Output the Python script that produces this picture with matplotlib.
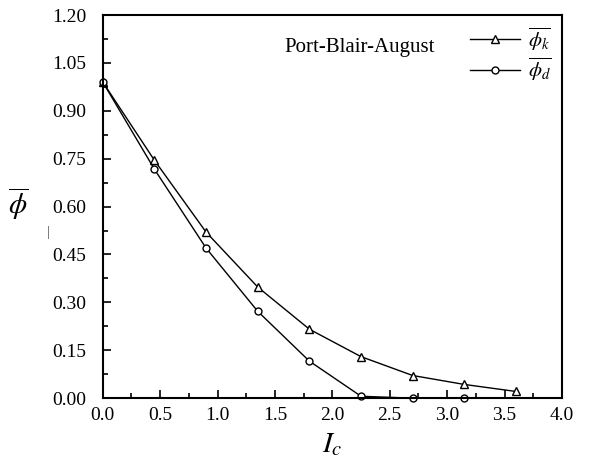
import matplotlib
matplotlib.use("Agg")
import matplotlib.pyplot as plt
from matplotlib.ticker import MultipleLocator

plt.rcParams['font.family'] = ['Liberation Serif', 'DejaVu Serif']
plt.rcParams['mathtext.fontset'] = 'stix'

# data
ic = [0.0, 0.45, 0.9, 1.35, 1.8, 2.25, 2.7, 3.15, 3.6]
phi_k = [0.99, 0.745, 0.52, 0.348, 0.216, 0.13, 0.071, 0.043, 0.021]
phi_d = [0.99, 0.717, 0.47, 0.272, 0.116, 0.006, 0.0, 0.0]

fig = plt.figure(figsize=(6.01, 4.69), dpi=100)
ax = fig.add_axes([0.171, 0.151, 0.764, 0.817])

ax.plot(ic, phi_k, color='black', lw=1, marker='^', ms=6, mfc='white',
        mec='black', mew=1, clip_on=False, label=r'$\overline{\phi_k}$')
ax.plot(ic[:len(phi_d)], phi_d, color='black', lw=1, marker='o', ms=5,
        mfc='white', mec='black', mew=1, clip_on=False,
        label=r'$\overline{\phi_d}$')

ax.set_xlim(0, 4.0)
ax.set_ylim(0, 1.2)
ax.xaxis.set_major_locator(MultipleLocator(0.5))
ax.xaxis.set_minor_locator(MultipleLocator(0.25))
ax.yaxis.set_major_locator(MultipleLocator(0.15))
ax.yaxis.set_minor_locator(MultipleLocator(0.075))
ax.xaxis.set_major_formatter(plt.FormatStrFormatter('%.1f'))
ax.yaxis.set_major_formatter(plt.FormatStrFormatter('%.2f'))
ax.tick_params(which='both', direction='in', top=False, right=False,
               labelsize=14, width=1.2)
ax.tick_params(which='major', length=6)
ax.tick_params(which='minor', length=3.5)
ax.tick_params(axis='y', pad=12)
ax.tick_params(axis='x', pad=6)
for s in ax.spines.values():
    s.set_linewidth(1.5)

ax.set_xlabel(r'$I_c$', fontsize=21)
ax.xaxis.set_label_coords(0.5, -0.085)
ax.set_ylabel(r'$\overline{\phi}$', fontsize=21, rotation=0)
ax.yaxis.set_label_coords(-0.185, 0.46)
# small stray bar next to the y label in the original
fig.text(0.081, 0.505, '|', fontsize=11, color='#555555', ha='center', va='center')

ax.text(0.56, 0.915, 'Port-Blair-August', transform=ax.transAxes,
        fontsize=15, ha='center', va='center')

ax.legend(loc='upper right', frameon=False, fontsize=15, handlelength=2.4,
          borderaxespad=0.1, labelspacing=0.15, handletextpad=0.4)

fig.savefig('out.png', dpi=100)
